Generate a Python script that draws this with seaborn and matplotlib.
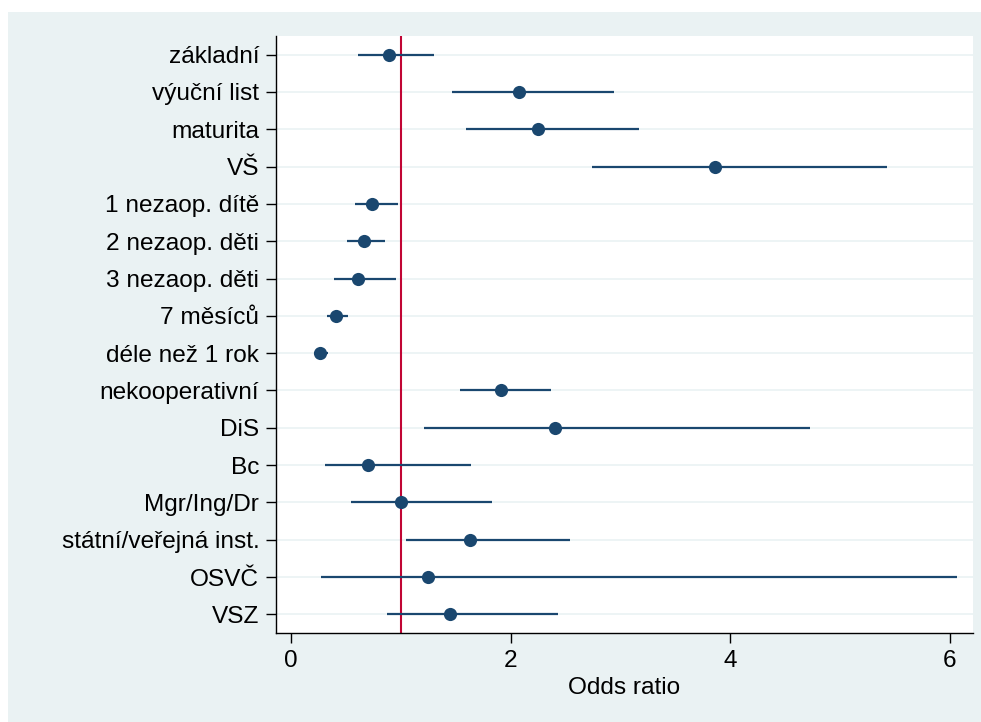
import matplotlib
matplotlib.use("Agg")
import matplotlib.pyplot as plt
import matplotlib.patches as mpatches
import pandas as pd
import seaborn as sns

# Odds ratios with 95% confidence intervals
labels = [
    "základní", "výuční list", "maturita", "VŠ",
    "1 nezaop. dítě", "2 nezaop. děti", "3 nezaop. děti",
    "7 měsíců", "déle než 1 rok", "nekooperativní",
    "DiS", "Bc", "Mgr/Ing/Dr", "státní/veřejná inst.", "OSVČ", "VSZ",
]
odds = [0.89, 2.08, 2.25, 3.86, 0.74, 0.66, 0.61, 0.41, 0.26, 1.91,
        2.40, 0.70, 1.00, 1.63, 1.25, 1.45]
ci_low = [0.61, 1.47, 1.59, 2.74, 0.58, 0.51, 0.39, 0.33, 0.21, 1.54,
          1.21, 0.31, 0.55, 1.05, 0.27, 0.87]
ci_high = [1.30, 2.94, 3.17, 5.43, 0.97, 0.86, 0.96, 0.52, 0.34, 2.37,
           4.73, 1.64, 1.83, 2.54, 6.06, 2.43]
x_ticks = [0, 2, 4, 6]

NAVY = "#1a476f"
RED = "#c10534"
BG = "#eaf2f3"

sns.set_style("white")
plt.rcParams["font.family"] = ["Liberation Sans", "DejaVu Sans"]
plt.rcParams["text.color"] = "black"
plt.rcParams["axes.labelcolor"] = "black"
plt.rcParams["xtick.color"] = "black"
plt.rcParams["ytick.color"] = "black"

df = pd.DataFrame({"label": labels, "odds": odds, "lo": ci_low, "hi": ci_high})
df["pos"] = range(len(df))

fig = plt.figure(figsize=(9.81, 7.22), dpi=100, facecolor="white")
# Stata-like graph region background
fig.patches.append(mpatches.Rectangle((8 / 981, 0), 1 - 8 / 981, 1 - 12 / 722,
                                      transform=fig.transFigure, facecolor=BG,
                                      edgecolor="none", zorder=-10))
ax = fig.add_axes([276 / 981, 89 / 722, 697 / 981, 597 / 722])
ax.set_facecolor("white")

for p in df["pos"]:
    ax.axhline(p, color=BG, lw=1.2, zorder=0)

ax.axvline(1, color=RED, lw=1.5, zorder=1)
ax.hlines(df["pos"], df["lo"], df["hi"], color=NAVY, lw=1.6, zorder=2)
sns.scatterplot(data=df, x="odds", y="pos", ax=ax, color=NAVY, s=90,
                edgecolor=NAVY, linewidth=0, zorder=3, legend=False)

ax.set_xlim(-0.137, 6.21)
ax.set_ylim(len(df) - 0.5, -0.5)
ax.set_yticks(df["pos"])
ax.set_yticklabels(labels)
ax.set_xticks(x_ticks)
ax.set_xlabel("Odds ratio", fontsize=17.6, labelpad=4, color="black")
ax.set_ylabel("")
ax.tick_params(axis="both", labelsize=17.6, length=7, width=1.0, direction="out",
               pad=5, color="black", labelcolor="black")
ax.tick_params(axis="y", left=True)
ax.tick_params(axis="x", bottom=True)

for side in ["top", "right"]:
    ax.spines[side].set_visible(False)
for side in ["left", "bottom"]:
    ax.spines[side].set_color("black")
    ax.spines[side].set_linewidth(1.0)

fig.savefig("out.png", dpi=100, facecolor="white")
